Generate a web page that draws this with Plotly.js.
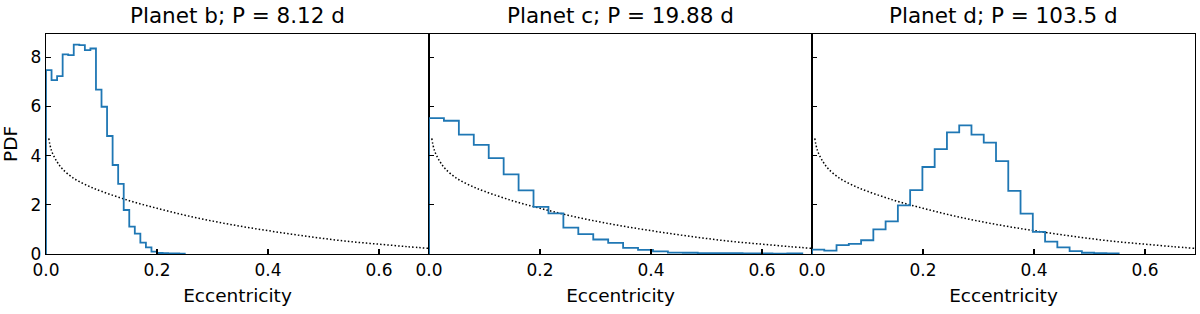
<!DOCTYPE html>
<html>
<head>
<meta charset="utf-8">
<script src="https://cdn.plot.ly/plotly-3.0.1.min.js"></script>
<style>html,body{margin:0;padding:0;background:#fff;}#chart{width:1200px;height:314px;}</style>
</head>
<body>
<div id="chart"></div>
<script>
// Panel titles
const panelTitles = ['Planet b; P = 8.12 d', 'Planet c; P = 19.88 d', 'Planet d; P = 103.5 d'];

// Posterior histograms (density), 25 bins each starting at e = 0
const binWidthB = 0.01;
const pdfB = [7.48, 7.07, 7.24, 8.12, 8.09, 8.52, 8.50, 8.29, 8.36, 6.69, 5.99, 4.80, 3.62, 2.85, 1.79,
              1.11, 0.83, 0.46, 0.27, 0.10, 0.04, 0.03, 0.02, 0.02, 0.01];
const binWidthC = 0.0269;
const pdfC = [5.53, 5.42, 4.86, 4.44, 3.90, 3.24, 2.59, 1.92, 1.65, 1.07, 0.81, 0.59, 0.45, 0.25, 0.17,
              0.11, 0.06, 0.05, 0.03, 0.03, 0.03, 0.02, 0.02, 0.01, 0.02];
const binWidthD = 0.0221;
const pdfD = [0.18, 0.14, 0.36, 0.41, 0.56, 1.00, 1.33, 1.98, 2.60, 3.54, 4.27, 4.95, 5.23, 4.86, 4.53,
              3.78, 2.57, 1.64, 0.90, 0.50, 0.27, 0.12, 0.05, 0.03, 0.02];

// Prior curve (dotted)
const priorE   = [0.005, 0.01, 0.02, 0.03, 0.05, 0.075, 0.10, 0.15, 0.20, 0.25, 0.30, 0.35, 0.40, 0.45, 0.50, 0.55, 0.60, 0.65, 0.69];
const priorPdf = [4.70, 4.20, 3.75, 3.45, 3.08, 2.78, 2.55, 2.17, 1.86, 1.58, 1.34, 1.13, 0.95, 0.78, 0.63, 0.50, 0.40, 0.30, 0.23];

// Axis ticks
const xTicks = [0, 0.2, 0.4, 0.6];
const yTicks = [0, 2, 4, 6, 8];

function stepXY(w, vals) {
  const x = [0], y = [0];
  vals.forEach((v, i) => { x.push(i * w); y.push(v); });
  x.push(vals.length * w); y.push(vals[vals.length - 1]);
  x.push(vals.length * w); y.push(0);
  return {x, y};
}

const hists = [[binWidthB, pdfB], [binWidthC, pdfC], [binWidthD, pdfD]];
const traces = [];
const layout = {
  width: 1200, height: 314,
  margin: {l: 46, r: 5, t: 34, b: 60},
  paper_bgcolor: '#fff', plot_bgcolor: '#fff',
  showlegend: false,
  font: {family: 'DejaVu Sans', color: '#000', size: 16},
  annotations: []
};

hists.forEach((h, i) => {
  const sfx = i === 0 ? '' : String(i + 1);
  const s = stepXY(h[0], h[1]);
  traces.push({
    x: priorE, y: priorPdf, xaxis: 'x' + sfx, yaxis: 'y' + sfx,
    type: 'scatter', mode: 'lines', line: {color: '#000', width: 1.5, dash: '1.5px,2.1px', shape: 'spline'},
    hoverinfo: 'skip'
  });
  traces.push({
    x: s.x, y: s.y, xaxis: 'x' + sfx, yaxis: 'y' + sfx,
    type: 'scatter', mode: 'lines', line: {color: '#1f77b4', width: 1.8, shape: 'hv'},
    hoverinfo: 'skip'
  });
  layout['xaxis' + sfx] = {
    domain: [i / 3, (i + 1) / 3], anchor: 'y' + sfx,
    range: [0, 0.69], tickvals: xTicks, tickformat: '.1f',
    ticks: 'inside', ticklen: 5, tickwidth: 1.2, tickcolor: '#000',
    showline: true, linecolor: '#000', linewidth: 1.2, mirror: true,
    showgrid: false, zeroline: false,
    tickfont: {family: 'DejaVu Sans', size: 17, color: '#000'},
    title: {text: 'Eccentricity', font: {family: 'DejaVu Sans', size: 18.5, color: '#000'}, standoff: 10}
  };
  layout['yaxis' + sfx] = {
    domain: [0, 1], anchor: 'x' + sfx,
    range: [0, 8.95], tickvals: yTicks,
    showticklabels: i === 0,
    ticks: 'inside', ticklen: 5, tickwidth: 1.2, tickcolor: '#000',
    showline: true, linecolor: '#000', linewidth: 1.2, mirror: true,
    showgrid: false, zeroline: false,
    tickfont: {family: 'DejaVu Sans', size: 17, color: '#000'},
    title: i === 0 ? {text: 'PDF', font: {family: 'DejaVu Sans', size: 18.5, color: '#000'}, standoff: 8} : {text: ''}
  };
  layout.annotations.push({
    text: panelTitles[i], xref: 'x' + sfx + ' domain', yref: 'paper',
    x: 0.5, y: 1, yshift: 4, xanchor: 'center', yanchor: 'bottom', showarrow: false,
    font: {family: 'DejaVu Sans', size: 21.5, color: '#000'}
  });
});

Plotly.newPlot('chart', traces, layout, {displayModeBar: false, staticPlot: true});
</script>
</body>
</html>
